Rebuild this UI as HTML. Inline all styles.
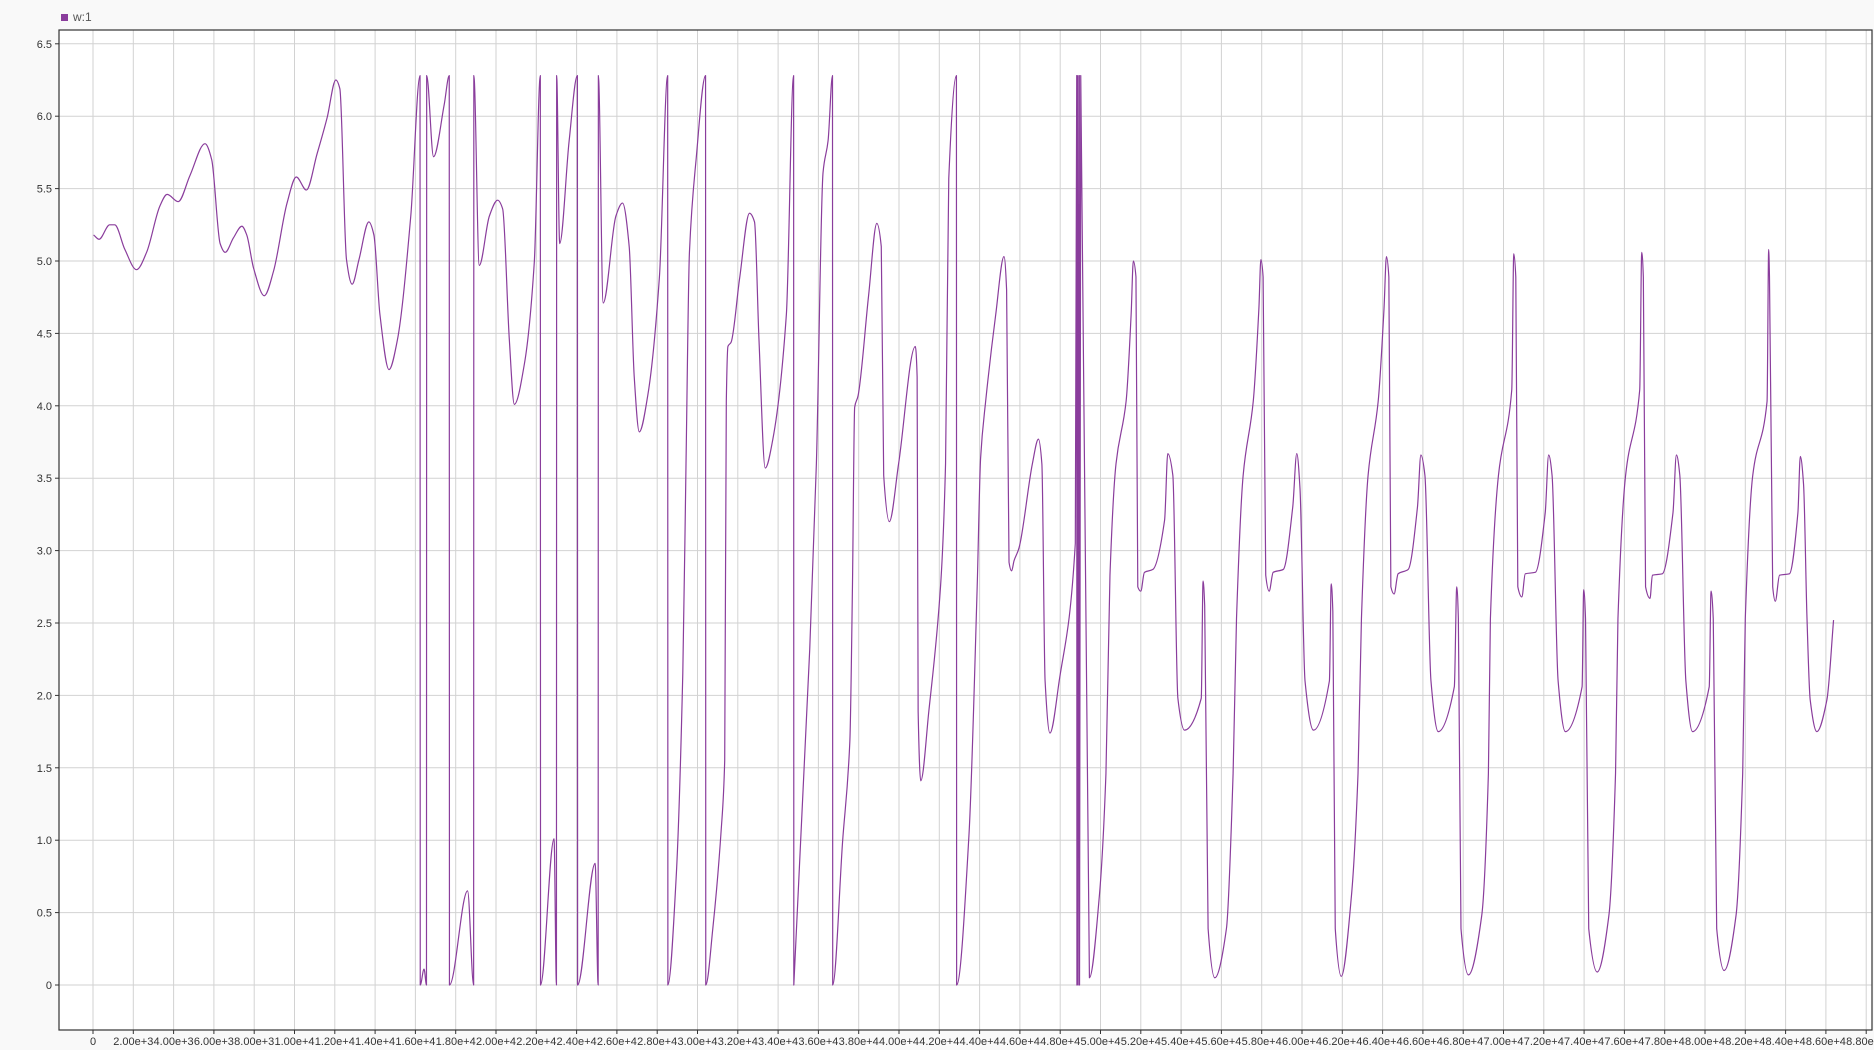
<!DOCTYPE html>
<html><head><meta charset="utf-8"><style>
html,body{margin:0;padding:0;background:#f9f9f9;}
body{width:1874px;height:1050px;overflow:hidden;font-family:"Liberation Sans",sans-serif;}
</style></head><body>
<svg id="chart" width="1874" height="1050" xmlns="http://www.w3.org/2000/svg" style="display:block">
<rect x="0" y="0" width="1874" height="1050" fill="#f9f9f9"/>
<g>
<rect x="61" y="14" width="7" height="7" fill="#8a3d9c"/>
<text x="73" y="21" font-size="12" fill="#555" font-family="Liberation Sans, sans-serif">w:1</text>
</g>
<rect x="59" y="30" width="1813" height="1000" fill="#fff"/>
<g id="grid"></g>
<g id="series"></g>
<rect x="59" y="30" width="1813" height="1000" fill="none" stroke="#333" stroke-width="1.2"/>
<g id="axes"></g>
</svg>
<script>
const yTicks = [0,0.5,1,1.5,2,2.5,3,3.5,4,4.5,5,5.5,6,6.5];
const xTicks = [];
for (let i = 0; i <= 44; i++) xTicks.push(i*2000);
const tData = [0.03,0.3,0.83,1.08,1.58,2.16,2.66,3.32,3.68,4.23,4.81,5.56,5.89,6.31,6.56,6.97,7.39,7.63,7.97,8.5,8.96,9.63,10.09,10.59,11.12,11.62,12.05,12.25,12.58,12.86,13.2,13.69,13.94,14.24,14.69,15.1,15.77,16.23,16.24,16.43,16.55,16.56,16.9,17.43,17.68,17.69,18.59,18.89,18.9,19.17,19.67,20.08,20.33,20.66,20.91,21.41,21.9,22.2,22.21,22.88,23.0,23.01,23.16,23.63,24.04,24.05,24.92,25.07,25.08,25.32,25.95,26.28,26.61,26.86,27.11,27.53,28.11,28.52,28.53,28.94,29.27,29.43,29.6,29.93,30.4,30.41,30.76,31.18,31.35,31.43,31.51,31.67,32.09,32.58,32.83,33.05,33.36,33.74,34.41,34.77,34.78,35.57,35.9,36.23,36.48,36.7,36.71,37.2,37.56,37.69,37.8,37.97,38.49,38.9,39.12,39.24,39.52,39.98,40.81,40.9,40.95,41.08,41.48,42.06,42.31,42.47,42.85,42.86,43.47,43.88,44.05,44.3,44.8,45.21,45.34,45.46,45.59,45.71,45.96,46.62,46.92,47.09,47.25,47.49,47.95,48.75,48.82,48.83,48.88,48.89,48.95,48.96,49.02,49.45,49.94,50.27,50.47,50.77,51.27,51.52,51.63,51.76,51.85,52.0,52.18,52.6,53.18,53.34,53.59,53.84,54.17,55.0,55.09,55.17,55.34,55.67,56.25,56.58,56.75,57.08,57.58,57.86,57.96,58.07,58.2,58.37,58.57,59.07,59.54,59.74,59.9,60.15,60.57,61.36,61.45,61.53,61.65,61.95,62.45,62.78,62.95,63.28,63.78,64.07,64.19,64.31,64.41,64.57,64.77,65.27,65.73,65.9,66.1,66.4,66.76,67.56,67.68,67.76,67.89,68.26,68.92,69.25,69.35,69.75,70.41,70.51,70.61,70.71,70.91,71.08,71.58,72.07,72.24,72.41,72.71,73.07,73.9,73.98,74.07,74.23,74.65,75.23,75.56,75.68,76.06,76.76,76.86,76.94,77.05,77.27,77.39,77.88,78.41,78.58,78.75,79.05,79.38,80.21,80.3,80.41,80.58,80.95,81.54,81.87,82.0,82.37,83.08,83.16,83.2,83.36,83.49,83.7,84.19,84.61,84.73,84.89,85.06,85.22,85.55,86.05,86.38];
const vData = [5.18,5.15,5.25,5.25,5.08,4.94,5.06,5.38,5.46,5.41,5.59,5.81,5.7,5.12,5.06,5.16,5.24,5.18,4.95,4.76,4.93,5.4,5.58,5.49,5.74,5.99,6.25,6.19,5.01,4.84,5.01,5.27,5.18,4.63,4.25,4.45,5.31,6.28,0,0.11,0,6.28,5.72,6.08,6.28,0,0.65,0,6.28,4.97,5.31,5.42,5.36,4.46,4.01,4.29,4.99,6.28,0,1.01,0,6.28,5.12,5.83,6.28,0,0.84,0,6.28,4.71,5.31,5.4,5.1,4.2,3.82,4.07,4.89,6.28,0,0.74,2.15,3.6,5.06,5.7,6.28,0,0.39,1.08,1.55,4.03,4.41,4.44,4.88,5.33,5.27,4.46,3.57,3.77,4.63,6.28,0,2.32,3.6,5.61,5.83,6.28,0,0.99,1.68,2.75,3.99,4.07,4.76,5.26,5.1,3.52,3.2,3.6,4.41,4.2,1.89,1.41,1.89,2.75,3.6,5.57,6.28,0,1.03,2.75,3.64,4.03,4.63,5.03,4.8,2.92,2.86,2.93,3.02,3.6,3.77,3.6,2.1,1.74,2.1,3.05,6.28,0,6.28,0,6.28,0,6.28,0.05,0.61,1.46,2.83,3.6,4.03,4.63,5.0,4.89,2.75,2.72,2.85,2.87,3.21,3.67,3.52,1.98,1.76,1.98,2.79,2.62,0.39,0.05,0.39,1.46,2.53,3.52,4.03,4.67,5.01,4.89,2.83,2.72,2.85,2.87,3.3,3.67,3.43,2.1,1.76,2.1,2.77,2.58,0.39,0.06,0.61,1.46,2.53,3.52,4.03,4.67,5.03,4.89,2.75,2.7,2.84,2.87,3.3,3.66,3.52,2.1,1.75,2.06,2.75,2.53,0.39,0.07,0.48,1.46,2.53,3.52,4.11,5.05,4.89,2.75,2.68,2.84,2.85,3.26,3.66,3.52,2.1,1.75,2.06,2.73,2.53,0.39,0.09,0.48,1.46,2.53,3.52,4.11,5.06,4.89,2.75,2.67,2.83,2.84,3.26,3.66,3.52,2.1,1.75,2.06,2.72,2.53,0.39,0.1,0.48,1.46,2.53,3.52,4.03,5.08,4.89,2.75,2.65,2.83,2.84,3.26,3.65,3.46,2.54,1.97,1.75,1.97,2.52,2.71];

const NS = "http://www.w3.org/2000/svg";
const X0 = 93, PXK = 20.15;
const Y0 = 985, PYU = 144.8;
function xs(v){ return X0 + v/1000*PXK; }
function ys(v){ return Y0 - v*PYU; }
function fmt(v){ if (v===0) return "0"; const e=Math.floor(Math.log10(v)); return (v/Math.pow(10,e)).toFixed(2)+"e+"+e; }

const grid = document.getElementById('grid');
const axes = document.getElementById('axes');
yTicks.forEach(t=>{
  const y = ys(t);
  const l = document.createElementNS(NS,'line');
  l.setAttribute('x1',59); l.setAttribute('x2',1872); l.setAttribute('y1',y); l.setAttribute('y2',y);
  l.setAttribute('stroke','#d2d2d2'); l.setAttribute('stroke-width','1');
  
  
  grid.appendChild(l);
  const tk = document.createElementNS(NS,'line');
  tk.setAttribute('x1',55); tk.setAttribute('x2',59); tk.setAttribute('y1',y); tk.setAttribute('y2',y);
  tk.setAttribute('stroke','#333');
  
  
  axes.appendChild(tk);
  const tx = document.createElementNS(NS,'text');
  tx.setAttribute('x',52); tx.setAttribute('y',y+4); tx.setAttribute('text-anchor','end');
  tx.setAttribute('font-size','11'); tx.setAttribute('fill','#333');
  tx.setAttribute('font-family','Liberation Sans, sans-serif');
  tx.textContent = t===0 ? "0" : t.toFixed(1);
  
  
  axes.appendChild(tx);
});
xTicks.forEach(t=>{
  const x = xs(t);
  const l = document.createElementNS(NS,'line');
  l.setAttribute('x1',x); l.setAttribute('x2',x); l.setAttribute('y1',30); l.setAttribute('y2',1030);
  l.setAttribute('stroke','#d2d2d2'); l.setAttribute('stroke-width','1');
  
  
  grid.appendChild(l);
  const tk = document.createElementNS(NS,'line');
  tk.setAttribute('x1',x); tk.setAttribute('x2',x); tk.setAttribute('y1',1030); tk.setAttribute('y2',1034);
  tk.setAttribute('stroke','#333');
  
  
  axes.appendChild(tk);
  const tx = document.createElementNS(NS,'text');
  tx.setAttribute('x',x); tx.setAttribute('y',1045); tx.setAttribute('text-anchor','middle');
  tx.setAttribute('font-size','11'); tx.setAttribute('fill','#333');
  tx.setAttribute('font-family','Liberation Sans, sans-serif');
  tx.textContent = fmt(t);
  
  
  axes.appendChild(tx);
});

// monotone cubic (Fritsch-Carlson) path through data
const series = document.getElementById('series');
const P = tData.map((t,i)=>[xs(t*1000), ys(vData[i])]);
const n = P.length;
const dk = [], m = [];
for (let i=0;i<n-1;i++){ const dx=P[i+1][0]-P[i][0]; dk.push(dx>0?(P[i+1][1]-P[i][1])/dx:0); }
for (let i=0;i<n;i++){
  if (i===0) m.push(dk[0]); else if (i===n-1) m.push(dk[n-2]);
  else if (dk[i-1]*dk[i]<=0) m.push(0);
  else { const a=dk[i-1], b=dk[i]; m.push(2/(1/a+1/b)); }
}
let d = "M"+P[0][0].toFixed(2)+","+P[0][1].toFixed(2);
for (let i=0;i<n-1;i++){
  const dx=(P[i+1][0]-P[i][0])/3;
  if (Math.abs(P[i+1][1]-P[i][1])>300){ d += "L"+P[i+1][0].toFixed(2)+","+P[i+1][1].toFixed(2); continue; }
  const c1x=P[i][0]+dx, c1y=P[i][1]+m[i]*dx;
  const c2x=P[i+1][0]-dx, c2y=P[i+1][1]-m[i+1]*dx;
  d += "C"+c1x.toFixed(2)+","+c1y.toFixed(2)+" "+c2x.toFixed(2)+","+c2y.toFixed(2)+" "+P[i+1][0].toFixed(2)+","+P[i+1][1].toFixed(2);
}
const p = document.createElementNS(NS,'path');
p.setAttribute('d', d);
p.setAttribute('fill','none'); p.setAttribute('stroke','#8a3d9c'); p.setAttribute('stroke-width','1.2');
p.setAttribute('stroke-linejoin','round');


series.appendChild(p);
</script>
</body></html>
